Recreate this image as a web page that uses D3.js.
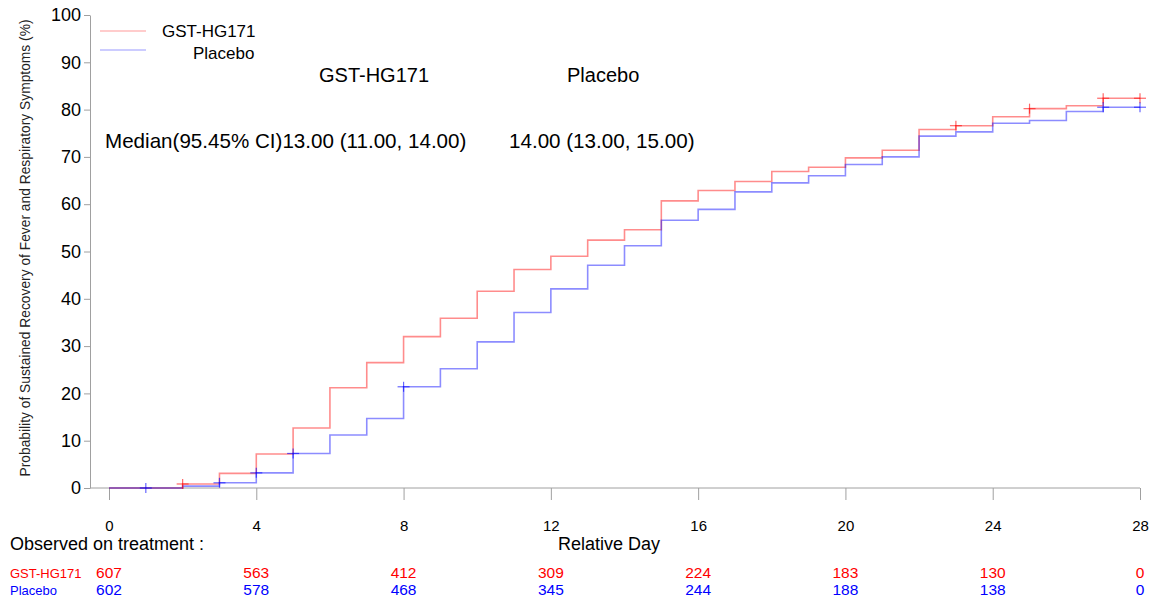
<!DOCTYPE html>
<html><head><meta charset="utf-8">
<script src="https://cdn.jsdelivr.net/npm/d3@7"></script>
<style>body{margin:0;background:#fff}text{font-family:Arial,"Liberation Sans",sans-serif}</style>
</head><body><svg id="c" width="1158" height="603"></svg>
<script>
const days = d3.range(0, 29);
const gstValues = [0,0,0.85,3.1,7.2,12.7,21.2,26.5,32.0,35.9,41.6,46.2,49.0,52.4,54.6,60.7,62.9,64.8,66.9,67.8,69.8,71.4,75.8,76.6,78.5,80.2,80.8,82.4,82.4];
const placeboValues = [0,0,0.4,1.1,3.2,7.3,11.2,14.7,21.4,25.2,30.9,37.1,42.1,47.1,51.2,56.6,58.9,62.6,64.5,66.0,68.4,70.0,74.4,75.3,77.1,77.7,79.6,80.5,80.5];
const gstCensor = [2,23,25,27,28];
const placeboCensor = [1,3,4,5,8,27,28];
const xTicks = [0,4,8,12,16,20,24,28];
const yTicks = d3.range(0,101,10);
const gstAtRisk = [607,563,412,309,224,183,130,0];
const placeboAtRisk = [602,578,468,345,244,188,138,0];
const seriesNames = ["GST-HG171","Placebo"];
const seriesColors = ["#ff0000","#0000ff"];

const svg = d3.select("#c");
const x = d3.scaleLinear().domain([0,28]).range([109,1140]);
const y = d3.scaleLinear().domain([0,100]).range([488,15]);
const axisCol = "#a0a0a0";

// y axis
const ya = svg.append("g").attr("transform","translate(90,0)")
  .call(d3.axisLeft(y).tickValues(yTicks).tickSize(6).tickPadding(3).tickSizeOuter(0));
ya.select(".domain").attr("stroke",axisCol);
ya.selectAll(".tick line").attr("stroke",axisCol);
ya.selectAll(".tick text").attr("font-size",18).attr("fill","#000").attr("font-family","Arial, 'Liberation Sans', sans-serif");

// x axis
svg.append("line").attr("x1",90).attr("x2",x(28)).attr("y1",488).attr("y2",488).attr("stroke",axisCol);
const xa = svg.append("g").attr("transform","translate(0,488)")
  .call(d3.axisBottom(x).tickValues(xTicks).tickSize(12).tickPadding(20).tickSizeOuter(0));
xa.select(".domain").remove();
xa.selectAll(".tick line").attr("stroke",axisCol);
xa.selectAll(".tick text").attr("font-size",15).attr("fill","#000").attr("font-family","Arial, 'Liberation Sans', sans-serif");

// y label
svg.append("text").attr("transform","translate(30,248) rotate(-90)").attr("text-anchor","middle")
  .attr("font-size",13.8).attr("fill","#222").text("Probability of Sustained Recovery of Fever and Respiratory Symptoms (%)");

// curves
const line = d3.line().x((d,i)=>x(days[i])).y(d=>y(d)).curve(d3.curveStepAfter);
[gstValues, placeboValues].forEach((vals,k)=>{
  svg.append("path").attr("d",line(vals)).attr("fill","none")
    .attr("stroke",seriesColors[k]).attr("stroke-opacity",0.45).attr("stroke-width",1.6);
});
[[gstCensor,gstValues],[placeboCensor,placeboValues]].forEach(([cs,vals],k)=>{
  const g = svg.append("g").attr("stroke",seriesColors[k]).attr("stroke-opacity",0.6).attr("stroke-width",1.2);
  cs.forEach(d=>{
    const cx = x(d), cy = y(vals[d]);
    g.append("line").attr("x1",cx-6).attr("x2",cx+6).attr("y1",cy).attr("y2",cy);
    g.append("line").attr("x1",cx).attr("x2",cx).attr("y1",cy-5).attr("y2",cy+5);
  });
});

// legend
const lg = svg.append("g");
[31,50].forEach((ly,k)=>{
  lg.append("line").attr("x1",100).attr("x2",146).attr("y1",ly).attr("y2",ly)
    .attr("stroke",seriesColors[k]).attr("stroke-opacity",0.4).attr("stroke-width",1.2);
});
lg.append("text").attr("x",162).attr("y",37).attr("font-size",17).text(seriesNames[0]);
lg.append("text").attr("x",193).attr("y",59).attr("font-size",17).text(seriesNames[1]);

// median annotation
svg.append("text").attr("x",319).attr("y",82).attr("font-size",20).text(seriesNames[0]);
svg.append("text").attr("x",567).attr("y",82).attr("font-size",20).text(seriesNames[1]);
svg.append("text").attr("x",105).attr("y",148).attr("font-size",20.6).text("Median(95.45% CI)13.00 (11.00, 14.00)");
svg.append("text").attr("x",509).attr("y",148).attr("font-size",20.6).text("14.00 (13.00, 15.00)");

// bottom
svg.append("text").attr("x",10).attr("y",550).attr("font-size",18).text("Observed on treatment :");
svg.append("text").attr("x",609).attr("y",550).attr("font-size",18).attr("text-anchor","middle").text("Relative Day");
[gstAtRisk, placeboAtRisk].forEach((arr,k)=>{
  const by = k===0 ? 578 : 595;
  svg.append("text").attr("x",10).attr("y",by).attr("font-size",13).attr("fill",seriesColors[k]).text(seriesNames[k]);
  arr.forEach((v,i)=>{
    svg.append("text").attr("x",x(xTicks[i])).attr("y",by).attr("font-size",15.5)
      .attr("text-anchor","middle").attr("fill",seriesColors[k]).text(v);
  });
});
</script></body></html>
